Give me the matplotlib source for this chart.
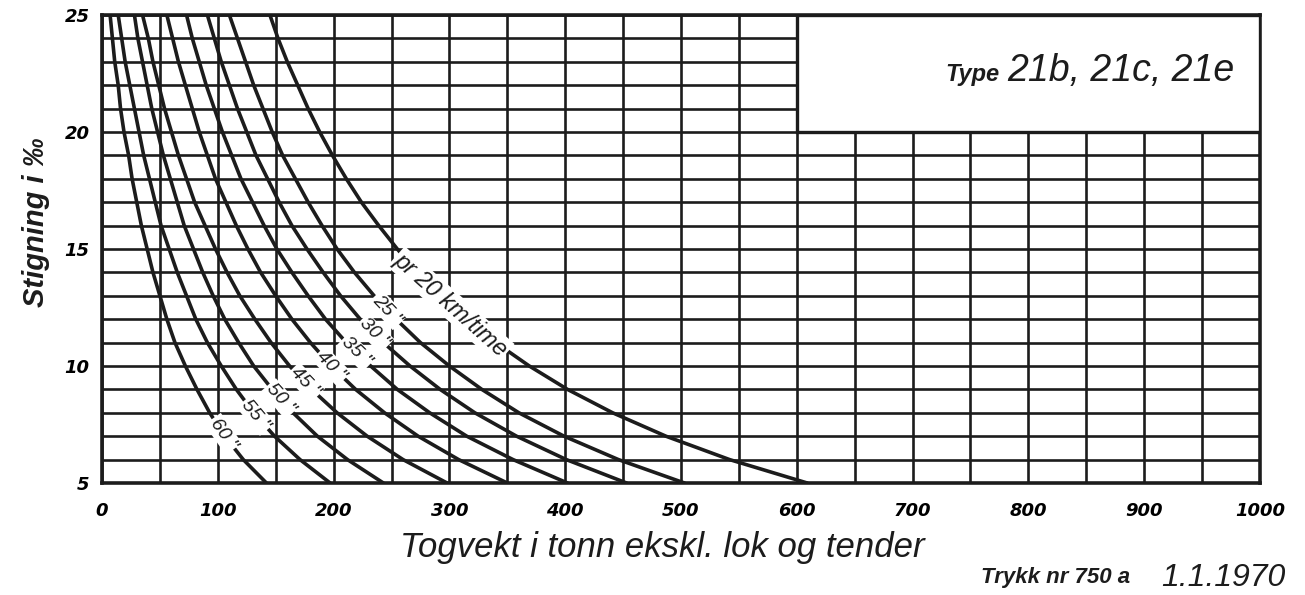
import numpy as np
import matplotlib
matplotlib.use("Agg")
import matplotlib.pyplot as plt
from matplotlib.patches import Rectangle

# ---------------- data ----------------
gradient = [5, 6, 7, 8, 9, 10, 11, 12, 13, 14, 15, 16, 17, 18, 19, 20, 21, 22, 23, 24, 25]
speeds = [20, 25, 30, 35, 40, 45, 50, 55, 60]
weight_20 = [609, 542, 487, 441, 402, 369, 340, 315, 292, 272, 255, 239, 224, 211, 199, 188, 178, 169, 160, 152, 145]
weight_25 = [503, 446, 399, 360, 328, 300, 275, 254, 235, 218, 203, 190, 178, 167, 156, 147, 139, 131, 124, 117, 110]
weight_30 = [453, 401, 358, 322, 292, 266, 243, 223, 206, 191, 177, 164, 153, 143, 133, 125, 117, 110, 103, 97, 91]
weight_35 = [402, 355, 315, 283, 255, 232, 211, 193, 178, 164, 151, 140, 130, 120, 112, 104, 97, 90, 84, 78, 73]
weight_40 = [350, 308, 273, 244, 219, 198, 180, 164, 150, 137, 126, 116, 107, 98, 91, 84, 78, 72, 66, 61, 56]
weight_45 = [298, 260, 229, 203, 181, 162, 146, 132, 119, 108, 98, 89, 80, 73, 66, 60, 54, 49, 44, 40, 35]
weight_50 = [243, 212, 186, 165, 147, 131, 118, 106, 96, 87, 79, 71, 65, 59, 53, 48, 43, 39, 35, 31, 28]
weight_55 = [197, 171, 149, 131, 116, 103, 91, 81, 73, 65, 58, 51, 46, 41, 36, 32, 28, 24, 20, 17, 14]
weight_60 = [142, 122, 106, 93, 82, 72, 63, 56, 50, 44, 39, 34, 30, 26, 23, 19, 16, 14, 11, 9, 7]
curve_labels = ["pr 20 km/time", '25 "', '30 "', '35 "', '40 "', '45 "', '50 "', '55 "', '60 "']
label_at_gradient = [12.6, 12.4, 11.4, 10.6, 10.0, 9.3, 8.6, 7.9, 7.1]

x_ticks = [0, 100, 200, 300, 400, 500, 600, 700, 800, 900, 1000]
y_ticks = [5, 10, 15, 20, 25]

x_label = "Togvekt i tonn ekskl. lok og tender"
y_label = "Stigning i ‰"
type_prefix = "Type"
type_text = "21b, 21c, 21e"
print_no = "Trykk nr 750 a"
print_date = "1.1.1970"

weights = [weight_20, weight_25, weight_30, weight_35, weight_40,
           weight_45, weight_50, weight_55, weight_60]

# ---------------- styling ----------------
INK = "#1c1c1c"
FAM = ["Liberation Sans Narrow", "Liberation Sans", "DejaVu Sans"]
plt.rcParams["font.family"] = FAM

W, H = 1305, 595
fig = plt.figure(figsize=(W / 100, H / 100), dpi=100)
fig.patch.set_facecolor("white")
L, R, T, B = 102, 1260, 15, 483
ax = fig.add_axes([L / W, 1 - B / H, (R - L) / W, (B - T) / H])
ax.set_xlim(0, 1000)
ax.set_ylim(5, 25)

ax.set_xticks(x_ticks)
ax.set_yticks(y_ticks)
ax.set_xticks(np.arange(0, 1001, 50), minor=True)
ax.set_yticks(np.arange(5, 26, 1), minor=True)
ax.grid(which="both", color=INK, lw=1.9)
ax.set_axisbelow(True)
ax.tick_params(which="both", length=0)
ax.tick_params(axis="x", pad=14)
ax.tick_params(axis="y", pad=9)
for lab in ax.get_xticklabels() + ax.get_yticklabels():
    lab.set_fontstyle("italic")
    lab.set_fontweight("bold")
    lab.set_fontsize(13)
    lab.set_family(["DejaVu Sans"])
for sp in ax.spines.values():
    sp.set_color(INK)
    sp.set_linewidth(2.6)

# blank title box in the upper right
ax.add_patch(Rectangle((600, 20), 400, 5, facecolor="white", edgecolor=INK,
                       lw=2.4, zorder=3))
ax.text(0.766, 0.864, type_prefix, fontsize=17, style="italic", fontweight="bold",
        ha="right", va="baseline", color=INK, transform=fig.transFigure, zorder=4)
ax.text(0.772, 0.864, type_text, fontsize=27, style="italic",
        ha="left", va="baseline", color=INK, transform=fig.transFigure, zorder=4)

# curves
for w in weights:
    ax.plot(w, gradient, color=INK, lw=2.6, solid_capstyle="round", zorder=2.5)

# inline curve labels
fig.canvas.draw()
g = np.array(gradient, float)
for w, lab, ly in zip(weights, curve_labels, label_at_gradient):
    xs = np.array(w, float)
    lx = np.interp(ly, g, xs)
    p1 = ax.transData.transform((np.interp(ly + 0.5, g, xs), ly + 0.5))
    p2 = ax.transData.transform((np.interp(ly - 0.5, g, xs), ly - 0.5))
    ang = np.degrees(np.arctan2(p2[1] - p1[1], p2[0] - p1[0]))
    fs = 17 if "km" in lab else 14
    ax.text(lx, ly, lab, rotation=ang, rotation_mode="anchor", ha="center", va="center",
            fontsize=fs, style="italic", color=INK, zorder=3,
            bbox=dict(boxstyle="square,pad=0.08", fc="white", ec="none"))

# axis titles and footer
fig.text(662 / W, 1 - 548 / H, x_label, fontsize=25, style="italic",
         ha="center", va="center", color=INK)
fig.text(36 / W, 1 - 222 / H, y_label, fontsize=21, style="italic", fontweight="bold",
         rotation=90, ha="center", va="center", color=INK)
fig.text(1130 / W, 1 - 578 / H, print_no, fontsize=16, style="italic", fontweight="bold",
         ha="right", va="center", color=INK)
fig.text(1285 / W, 1 - 578 / H, print_date, fontsize=23, style="italic",
         ha="right", va="center", color=INK)

fig.savefig("out.png", dpi=100, facecolor="white")
